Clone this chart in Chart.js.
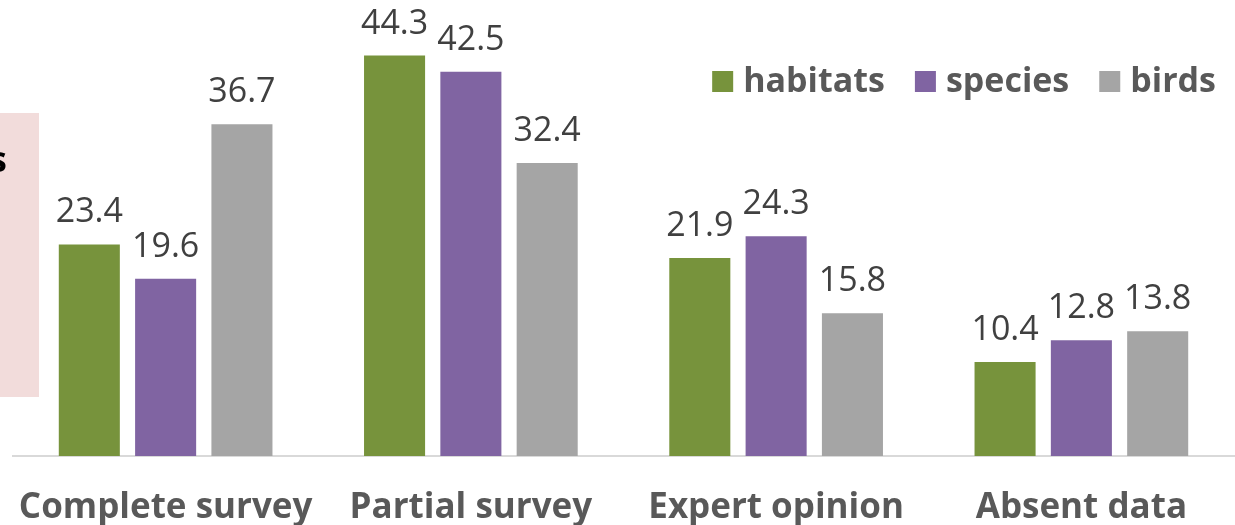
<!DOCTYPE html>
<html>
<head>
<meta charset="utf-8">
<script src="https://cdn.jsdelivr.net/npm/chart.js@4.4.1/dist/chart.umd.min.js"></script>
<style>
  html, body { margin: 0; padding: 0; background: #ffffff; }
  #wrap { width: 1235px; height: 525px; position: relative; }
</style>
</head>
<body>
<div id="wrap"><canvas id="c" width="1235" height="525"></canvas></div>
<script>
// Survey method categories and shares per group
const categories = ['Complete survey', 'Partial survey', 'Expert opinion', 'Absent data'];
const habitats = [23.4, 44.3, 21.9, 10.4];
const species = [19.6, 42.5, 24.3, 12.8];
const birds = [36.7, 32.4, 15.8, 13.8];
const seriesNames = ['habitats', 'species', 'birds'];
const seriesColors = ['#77933C', '#8064A2', '#A5A5A5'];

const FONT = '"Open Sans", "Noto Sans", sans-serif';

// Pale side panel with a partly visible heading letter
const sidePanel = {
  id: 'sidePanel',
  beforeDraw(chart) {
    const ctx = chart.ctx;
    ctx.save();
    ctx.fillStyle = '#F2DCDB';
    ctx.fillRect(0, 113, 39, 284);
    ctx.fillStyle = '#000000';
    ctx.font = 'bold 36px ' + FONT;
    ctx.textAlign = 'right';
    ctx.textBaseline = 'alphabetic';
    ctx.fillText('s', 7, 172);
    ctx.restore();
  }
};

// Value labels above each bar
const valueLabels = {
  id: 'valueLabels',
  afterDatasetsDraw(chart) {
    const ctx = chart.ctx;
    ctx.save();
    ctx.font = '34px ' + FONT;
    ctx.fillStyle = '#404040';
    ctx.textAlign = 'center';
    ctx.textBaseline = 'alphabetic';
    chart.data.datasets.forEach((ds, di) => {
      const meta = chart.getDatasetMeta(di);
      meta.data.forEach((bar, i) => {
        ctx.fillText(ds.data[i].toFixed(1), bar.x, bar.y - 22);
      });
    });
    ctx.restore();
  }
};

// Legend drawn inside the plot, right-aligned
const insetLegend = {
  id: 'insetLegend',
  afterDraw(chart) {
    const ctx = chart.ctx;
    ctx.save();
    ctx.font = 'bold 34px ' + FONT;
    ctx.textBaseline = 'alphabetic';
    const box = 21, gapText = 10, gapItem = 30, right = 1216, baseY = 92;
    const items = chart.data.datasets.map(ds => ({
      label: ds.label, color: ds.backgroundColor, w: ctx.measureText(ds.label).width
    }));
    let total = 0;
    items.forEach((it, i) => { total += box + gapText + it.w + (i ? gapItem : 0); });
    let x = right - total;
    items.forEach((it, i) => {
      if (i) x += gapItem;
      ctx.fillStyle = it.color;
      ctx.fillRect(x, 71, box, 21);
      x += box + gapText;
      ctx.fillStyle = '#595959';
      ctx.textAlign = 'left';
      ctx.fillText(it.label, x, baseY);
      x += it.w;
    });
    ctx.restore();
  }
};

const seriesValues = [habitats, species, birds];

new Chart(document.getElementById('c'), {
  type: 'bar',
  data: {
    labels: categories,
    datasets: seriesNames.map((name, i) => ({
      label: name,
      data: seriesValues[i],
      backgroundColor: seriesColors[i],
      borderWidth: 0,
      categoryPercentage: 0.75,
      barPercentage: 0.8
    }))
  },
  options: {
    responsive: false,
    animation: false,
    events: [],
    layout: { padding: { left: 13, right: 1, top: 4, bottom: 0 } },
    plugins: {
      legend: { display: false },
      tooltip: { enabled: false }
    },
    scales: {
      x: {
        grid: { display: false, drawTicks: false },
        border: { display: true, color: '#D9D9D9', width: 2 },
        ticks: {
          color: '#595959',
          font: { family: FONT, size: 35, weight: 'bold' },
          padding: 31,
          maxRotation: 0,
          autoSkip: false
        },
        afterFit(scale) {
          scale.height = 69;
          scale.paddingLeft = 0;
          scale.paddingRight = 0;
        }
      },
      y: {
        display: false,
        min: 0,
        max: 50
      }
    }
  },
  plugins: [sidePanel, valueLabels, insetLegend]
});
</script>
</body>
</html>
